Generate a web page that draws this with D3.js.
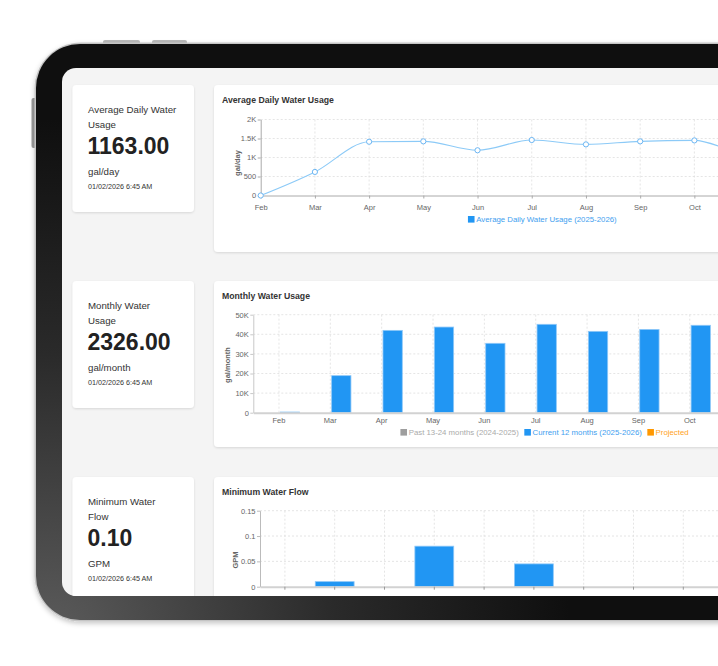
<!DOCTYPE html>
<html>
<head>
<meta charset="utf-8">
<script src="https://cdn.jsdelivr.net/npm/d3@7"></script>
<style>
  html, body { margin: 0; padding: 0; background: #fff; overflow: hidden; }
  svg { display: block; font-family: "Liberation Sans", Arial, sans-serif; }
</style>
</head>
<body>
<svg id="main" width="718" height="666"></svg>
<script>
// ---- data ----
const months = ['Feb','Mar','Apr','May','Jun','Jul','Aug','Sep','Oct','Nov','Dec','Jan'];
const dailyUsage = [0, 620, 1415, 1425, 1190, 1460, 1345, 1425, 1450, 1090, 1210, 1163];
const monthlyPast = [null, null, null, null, null, null, null, null, null, null, null, null];
const monthlyCurrent = [350, 18900, 42000, 43700, 35400, 45100, 41500, 42500, 44600, 39500, 37000, 2326];
const minFlow = [0, 0.01, 0, 0.08, 0, 0.045, 0, 0, 0, 0, 0, 0.1];

const dailyTicks = [0, 500, 1000, 1500, 2000];
const monthlyTicks = [0, 10000, 20000, 30000, 40000, 50000];
const flowTicks = [0, 0.05, 0.1, 0.15];

const kpiTitles = [['Average Daily Water', 'Usage'], ['Monthly Water', 'Usage'], ['Minimum Water', 'Flow']];
const kpiValues = ['1163.00', '2326.00', '0.10'];
const kpiUnits = ['gal/day', 'gal/month', 'GPM'];
const kpiStamp = '01/02/2026 6:45 AM';

const chartTitles = ['Average Daily Water Usage', 'Monthly Water Usage', 'Minimum Water Flow'];
const yTitles = ['gal/day', 'gal/month', 'GPM'];
const dailyLegend = ['Average Daily Water Usage (2025-2026)'];
const monthlyLegend = ['Past 13-24 months (2024-2025)', 'Current 12 months (2025-2026)', 'Projected'];

// ---- colours ----
const blue = '#2196f3';
const lineBlue = '#8ccaf7';
const gridCol = '#dedede';

const fmtK = d => d >= 1000 ? (d / 1000) + 'K' : String(d);
const viewW = 718;

const svg = d3.select('#main');
const defs = svg.append('defs');

const rg = defs.append('radialGradient')
  .attr('id', 'bezel')
  .attr('gradientUnits', 'userSpaceOnUse')
  .attr('cx', 50).attr('cy', 640).attr('r', 520);
rg.append('stop').attr('offset', '0').attr('stop-color', '#5c5c5c');
rg.append('stop').attr('offset', '0.55').attr('stop-color', '#2a2a2a');
rg.append('stop').attr('offset', '1').attr('stop-color', '#0f0f0f');

const fShadow = defs.append('filter').attr('id', 'frameShadow')
  .attr('x', '-10%').attr('y', '-10%').attr('width', '120%').attr('height', '120%');
fShadow.append('feDropShadow').attr('dx', 0).attr('dy', 2).attr('stdDeviation', 2.5)
  .attr('flood-color', '#000').attr('flood-opacity', 0.22);

const cShadow = defs.append('filter').attr('id', 'cardShadow')
  .attr('x', '-10%').attr('y', '-10%').attr('width', '120%').attr('height', '130%');
cShadow.append('feDropShadow').attr('dx', 0).attr('dy', 1).attr('stdDeviation', 1.2)
  .attr('flood-color', '#000').attr('flood-opacity', 0.12);

defs.append('clipPath').attr('id', 'screenClip')
  .append('rect').attr('x', 62).attr('y', 68).attr('width', 800).attr('height', 528).attr('rx', 14);

// ---- tablet ----
svg.append('rect').attr('x', 103).attr('y', 40).attr('width', 37).attr('height', 5).attr('rx', 2).attr('fill', '#b9b9b9');
svg.append('rect').attr('x', 152).attr('y', 40).attr('width', 35).attr('height', 5).attr('rx', 2).attr('fill', '#b9b9b9');
svg.append('rect').attr('x', 31.5).attr('y', 98).attr('width', 5).attr('height', 50).attr('rx', 2).attr('fill', '#9a9a9a');

svg.append('rect')
  .attr('x', 34.5).attr('y', 42.5).attr('width', 800).attr('height', 579)
  .attr('rx', 46).attr('fill', '#c4c4c4').attr('filter', 'url(#frameShadow)');
svg.append('rect')
  .attr('x', 36).attr('y', 44).attr('width', 800).attr('height', 576)
  .attr('rx', 44).attr('fill', 'url(#bezel)');
svg.append('rect')
  .attr('x', 62).attr('y', 68).attr('width', 800).attr('height', 528)
  .attr('rx', 14).attr('fill', '#f4f4f4');

const screen = svg.append('g').attr('clip-path', 'url(#screenClip)');

const rowTop = [85, 281, 477];
const chartH = [167, 166, 170];

// ---- KPI cards ----
rowTop.forEach((top, i) => {
  const g = screen.append('g');
  g.append('rect').attr('x', 72.5).attr('y', top).attr('width', 121.5).attr('height', 127)
    .attr('rx', 4).attr('fill', '#fff').attr('filter', 'url(#cardShadow)');
  kpiTitles[i].forEach((line, j) => {
    g.append('text').attr('x', 88).attr('y', top + 27.5 + j * 15.6)
      .attr('font-size', 9.7).attr('fill', '#333').text(line);
  });
  g.append('text').attr('x', 87.5).attr('y', top + 69)
    .attr('font-size', 23).attr('font-weight', 'bold').attr('fill', '#222').text(kpiValues[i]);
  g.append('text').attr('x', 88).attr('y', top + 89.5)
    .attr('font-size', 9.7).attr('fill', '#333').text(kpiUnits[i]);
  g.append('text').attr('x', 88).attr('y', top + 104.3)
    .attr('font-size', 7.2).attr('fill', '#333').text(kpiStamp);

  g.append('rect').attr('x', 214).attr('y', top).attr('width', 660).attr('height', chartH[i])
    .attr('rx', 4).attr('fill', '#fff').attr('filter', 'url(#cardShadow)');
  g.append('text').attr('x', 222).attr('y', top + 18.1)
    .attr('font-size', 8.7).attr('font-weight', 'bold').attr('fill', '#333').text(chartTitles[i]);
});

function styleAxis(g, lineCol) {
  g.selectAll('.domain').attr('stroke', lineCol);
  g.selectAll('.tick line').attr('stroke', lineCol);
  g.selectAll('.tick text').attr('fill', '#666').attr('font-size', 7.5)
    .attr('font-family', '"Liberation Sans", Arial, sans-serif');
}

// labels past the right edge of the window sit behind the screen edge anyway
function dropOffscreen(g, pos) {
  g.selectAll('.tick').filter(d => pos(d) > viewW - 8).select('text').remove();
}

function yTitle(text, x, y) {
  screen.append('text')
    .attr('transform', `translate(${x},${y}) rotate(-90)`)
    .attr('text-anchor', 'middle').attr('dy', '0.35em')
    .attr('font-size', 7.5).attr('font-weight', 'bold').attr('fill', '#666')
    .text(text);
}

function legend(items, cx, cy) {
  const grp = screen.append('g');
  let x = 0;
  items.forEach(it => {
    grp.append('rect').attr('x', x).attr('y', cy - 3.3).attr('width', 6.6).attr('height', 6.6).attr('fill', it.box);
    const t = grp.append('text').attr('x', x + 8.3).attr('y', cy + 2.8)
      .attr('font-size', 7.8).attr('fill', it.text).text(it.label);
    x += 8.3 + t.node().getComputedTextLength() + 5.5;
  });
  grp.attr('transform', `translate(${cx - (x - 5.5) / 2},0)`);
}

function hGrid(y, ticks, x0, x1) {
  screen.append('g').selectAll('line').data(ticks).enter().append('line')
    .attr('x1', x0).attr('x2', x1)
    .attr('y1', d => y(d)).attr('y2', d => y(d))
    .attr('stroke', gridCol).attr('stroke-width', 0.8).attr('stroke-dasharray', '2,2');
}

function vGrid(xs, y0, y1) {
  screen.append('g').selectAll('line').data(xs).enter().append('line')
    .attr('x1', d => d).attr('x2', d => d)
    .attr('y1', y0).attr('y2', y1)
    .attr('stroke', gridCol).attr('stroke-width', 0.8).attr('stroke-dasharray', '2,2');
}

// ---- chart 1: average daily usage (line) ----
{
  const x = d3.scalePoint().domain(months).range([260.7, 857]);
  const y = d3.scaleLinear().domain([0, 2000]).range([195.5, 119.5]);

  hGrid(y, dailyTicks.slice(1), 260.7, 870);
  vGrid(months.slice(1).map(m => x(m)), 119.5, 195.5);

  const ya = screen.append('g').attr('transform', 'translate(260.7,0)')
    .call(d3.axisLeft(y).tickValues(dailyTicks).tickFormat(fmtK).tickSize(3).tickPadding(1.5).tickSizeOuter(0));
  styleAxis(ya, '#aaa');
  const xa = screen.append('g').attr('transform', 'translate(0,195.5)')
    .call(d3.axisBottom(x).tickSize(3).tickPadding(6).tickSizeOuter(0));
  styleAxis(xa, '#aaa');
  xa.select('.domain').attr('d', 'M260.7,0.5H870');
  dropOffscreen(xa, m => x(m));

  const line = d3.line()
    .x((d, i) => x(months[i]))
    .y(d => y(d))
    .curve(d3.curveMonotoneX);
  screen.append('path').datum(dailyUsage)
    .attr('d', line).attr('fill', 'none').attr('stroke', lineBlue).attr('stroke-width', 1.1);
  screen.append('g').selectAll('circle').data(dailyUsage).enter().append('circle')
    .attr('cx', (d, i) => x(months[i])).attr('cy', d => y(d)).attr('r', 2.6)
    .attr('fill', '#fff').attr('stroke', '#6cb6f3').attr('stroke-width', 1);

  yTitle(yTitles[0], 237.5, 163);
  legend([{ label: dailyLegend[0], box: blue, text: '#42a0ef' }], 542.3, 219.3);
}

// ---- chart 2: monthly usage (grouped bars) ----
{
  const x = d3.scaleBand().domain(months).range([253.3, 869.5]).padding(0);
  const step = x.step();
  const xs = d3.scaleBand().domain(['past', 'current']).range([0.1 * step, 0.9 * step]);
  const y = d3.scaleLinear().domain([0, 50000]).range([412.7, 314.7]);

  hGrid(y, monthlyTicks.slice(1), 253.3, 875);
  vGrid(months.map(m => x(m) + step / 2), 314.7, 412.7);

  const ya = screen.append('g').attr('transform', 'translate(253.3,0)')
    .call(d3.axisLeft(y).tickValues(monthlyTicks).tickFormat(fmtK).tickSize(3).tickPadding(1.5).tickSizeOuter(0));
  styleAxis(ya, '#c8c8c8');

  const bw = xs.bandwidth() * 0.94;
  const series = [{ key: 'past', vals: monthlyPast, col: '#9e9e9e' }, { key: 'current', vals: monthlyCurrent, col: blue }];
  series.forEach(s => {
    screen.append('g').selectAll('rect').data(s.vals.map((v, i) => ({ v, m: months[i] })).filter(d => d.v != null))
      .enter().append('rect')
      .attr('x', d => x(d.m) + xs(s.key) + (xs.bandwidth() - bw) / 2 + 0.7)
      .attr('y', d => y(d.v))
      .attr('width', bw)
      .attr('height', d => y(0) - y(d.v))
      .attr('fill', s.col)
      .attr('stroke', '#8fc8f8').attr('stroke-width', 0.8);
  });

  const xa = screen.append('g').attr('transform', 'translate(0,412.7)')
    .call(d3.axisBottom(x).tickSize(0).tickPadding(4.6).tickSizeOuter(0));
  styleAxis(xa, '#d2d2d2');
  xa.select('.domain').attr('stroke-width', 2);
  dropOffscreen(xa, m => x(m) + step / 2);

  yTitle(yTitles[1], 227.5, 365);
  legend([
    { label: monthlyLegend[0], box: '#9e9e9e', text: '#aaa' },
    { label: monthlyLegend[1], box: blue, text: '#42a0ef' },
    { label: monthlyLegend[2], box: '#ff9800', text: '#ffa31a' }
  ], 544.5, 432.3);
}

// ---- chart 3: minimum flow (bars) ----
{
  const x = d3.scaleBand().domain(months).range([260, 857.6]).paddingInner(0.22).paddingOuter(0.11);
  const y = d3.scaleLinear().domain([0, 0.15]).range([586.7, 510.7]);

  hGrid(y, flowTicks.slice(1), 260, 870);
  vGrid(months.map(m => x(m) + x.bandwidth() / 2), 510.7, 586.7);

  const ya = screen.append('g').attr('transform', 'translate(260,0)')
    .call(d3.axisLeft(y).tickValues(flowTicks).tickFormat(d => String(d)).tickSize(3).tickPadding(1.5).tickSizeOuter(0));
  styleAxis(ya, '#bbb');

  screen.append('g').selectAll('rect').data(minFlow.map((v, i) => ({ v, m: months[i] })).filter(d => d.v > 0))
    .enter().append('rect')
    .attr('x', d => x(d.m))
    .attr('y', d => y(d.v))
    .attr('width', x.bandwidth())
    .attr('height', d => y(0) - y(d.v))
    .attr('fill', blue)
    .attr('stroke', '#8fc8f8').attr('stroke-width', 0.8);

  const xa = screen.append('g').attr('transform', 'translate(0,586.7)')
    .call(d3.axisBottom(x).tickSize(3).tickPadding(6).tickSizeOuter(0));
  styleAxis(xa, '#d2d2d2');
  xa.select('.domain').attr('stroke-width', 2);
  xa.selectAll('.tick line').attr('stroke', '#999');
  dropOffscreen(xa, m => x(m) + x.bandwidth() / 2);

  yTitle(yTitles[2], 235.5, 560);
}
</script>
</body>
</html>
